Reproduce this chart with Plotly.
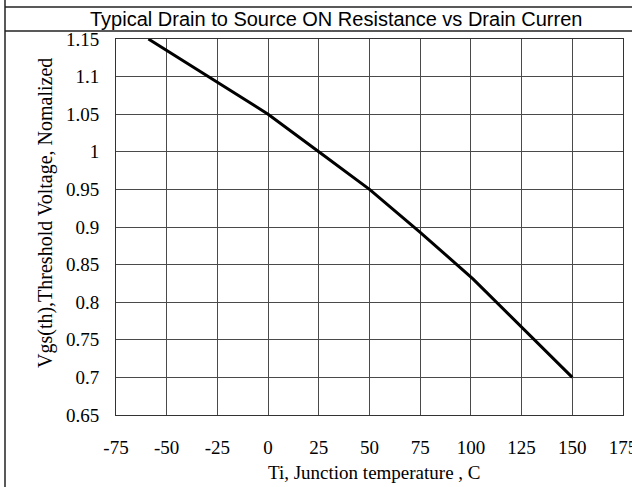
import plotly.graph_objects as go

# Normalized gate threshold voltage vs junction temperature
temp_c = [-59, 0, 25, 50, 75, 101, 150]
vgs_norm = [1.15, 1.05, 1.0, 0.95, 0.893, 0.831, 0.70]

x_ticks = [-75, -50, -25, 0, 25, 50, 75, 100, 125, 150, 175]
y_ticks = [0.65, 0.7, 0.75, 0.8, 0.85, 0.9, 0.95, 1.0, 1.05, 1.1, 1.15]
y_tick_text = ["0.65", "0.7", "0.75", "0.8", "0.85", "0.9", "0.95", "1", "1.05", "1.1", "1.15"]

title_text = "Typical Drain to Source ON Resistance vs Drain Curren"
x_title = "Ti, Junction temperature , C"
y_title = "Vgs(th),Threshold Voltage, Nomalized"

W, H = 632, 487
L, R, T, B = 116, 9, 39, 72
pw, ph = W - L - R, H - T - B


def px_x(px):
    return (px - L) / pw


def px_y(py):
    return (H - B - py) / ph


serif = "Liberation Serif, Times New Roman, serif"
sans = "Liberation Sans, Arial, sans-serif"
grid = "#4a4a4a"

fig = go.Figure(
    go.Scatter(
        x=temp_c, y=vgs_norm, mode="lines",
        line=dict(color="black", width=3), showlegend=False,
    )
)

fig.update_xaxes(
    range=[-75, 175], tickvals=x_ticks, ticktext=[str(v) for v in x_ticks],
    showgrid=True, gridcolor=grid, gridwidth=1,
    showline=True, linecolor="#333", linewidth=1, mirror=True,
    zeroline=False, ticks="", ticklabelstandoff=15,
    ticklabeloverflow="allow", automargin=False,
    tickfont=dict(family=serif, size=19, color="black"),
)
fig.update_yaxes(
    range=[0.65, 1.15], tickvals=y_ticks, ticktext=y_tick_text,
    showgrid=True, gridcolor=grid, gridwidth=1,
    showline=True, linecolor="#333", linewidth=1, mirror=True,
    zeroline=False, ticks="", ticklabelstandoff=12,
    ticklabeloverflow="allow", automargin=False,
    tickfont=dict(family=serif, size=19, color="black"),
)

shapes = [
    # title row cover, hides anything poking above the plot
    dict(type="rect", xref="paper", yref="paper", layer="above",
         x0=px_x(6), x1=px_x(W + 5), y0=px_y(31), y1=px_y(7),
         fillcolor="white", line=dict(width=0)),
    dict(type="line", xref="paper", yref="paper", layer="above",
         x0=px_x(5), x1=px_x(W + 5), y0=px_y(7), y1=px_y(7),
         line=dict(color="#222", width=1.5)),
    dict(type="line", xref="paper", yref="paper", layer="above",
         x0=px_x(5), x1=px_x(W + 5), y0=px_y(31), y1=px_y(31),
         line=dict(color="#222", width=1.5)),
    dict(type="line", xref="paper", yref="paper", layer="above",
         x0=px_x(5), x1=px_x(5), y0=px_y(-5), y1=px_y(H + 5),
         line=dict(color="#222", width=1.5)),
]

annotations = [
    dict(text=title_text, xref="paper", yref="paper", x=px_x(336), y=px_y(19),
         xanchor="center", yanchor="middle", showarrow=False,
         font=dict(family=sans, size=20, color="black")),
    dict(text=x_title, xref="paper", yref="paper", x=px_x(374), y=px_y(472),
         xanchor="center", yanchor="middle", showarrow=False,
         font=dict(family=serif, size=19, color="black")),
    dict(text=y_title, xref="paper", yref="paper", x=px_x(45), y=px_y(213),
         xanchor="center", yanchor="middle", showarrow=False, textangle=-90,
         font=dict(family=serif, size=20, color="black")),
]

fig.update_layout(
    width=W, height=H,
    margin=dict(l=L, r=R, t=T, b=B, pad=0, autoexpand=False),
    paper_bgcolor="white", plot_bgcolor="white",
    shapes=shapes, annotations=annotations,
)

fig.write_html("out.html")
